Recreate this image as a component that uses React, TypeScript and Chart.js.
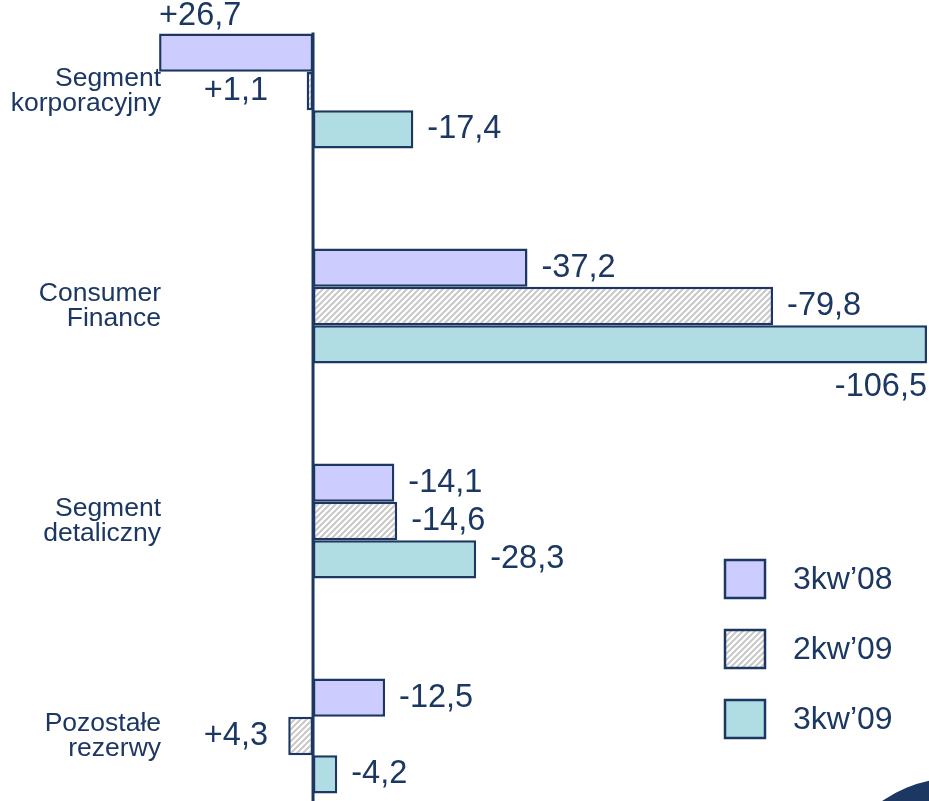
import React, { useEffect, useRef } from "react";
import { Chart, registerables } from "chart.js";

Chart.register(...registerables);

const CATEGORIES: string[][] = [
  ["Segment", "korporacyjny"],
  ["Consumer", "Finance"],
  ["Segment", "detaliczny"],
  ["Pozostałe", "rezerwy"],
];
const SERIES_NAMES = ["3kw’08", "2kw’09", "3kw’09"];
const Q3_08 = [26.7, -37.2, -14.1, -12.5];
const Q2_09 = [1.1, -79.8, -14.6, 4.3];
const Q3_09 = [-17.4, -106.5, -28.3, -4.2];

const NAVY = "#1c3862";
const TEXT = "#1c3862";
const PURPLE = "#ccccff";
const TEAL = "#b0dde3";
const FONT = '"Liberation Sans", Arial, sans-serif';

function makeHatch(): CanvasPattern | string {
  const c = document.createElement("canvas");
  c.width = 6;
  c.height = 6;
  const g = c.getContext("2d");
  if (!g) return "#dddddd";
  g.fillStyle = "#ffffff";
  g.fillRect(0, 0, 6, 6);
  g.strokeStyle = "#c8c8c8";
  g.lineWidth = 2;
  g.beginPath();
  g.moveTo(-1, 7);
  g.lineTo(7, -1);
  g.moveTo(-4, 4);
  g.lineTo(4, -4);
  g.moveTo(2, 10);
  g.lineTo(10, 2);
  g.stroke();
  const p = g.createPattern(c, "repeat");
  return p || "#dddddd";
}

function fmt(v: number): string {
  return (v > 0 ? "+" : "") + v.toFixed(1).replace(".", ",");
}

export default function App() {
  const ref = useRef<HTMLCanvasElement | null>(null);

  useEffect(() => {
    document.body.style.margin = "0";
    const canvas = ref.current;
    if (!canvas) return;
    const hatch = makeHatch();
    const fills = [PURPLE, hatch, TEAL];

    const overlay = {
      id: "overlay",
      afterDatasetsDraw(chart: any) {
        const ctx = chart.ctx as CanvasRenderingContext2D;
        const xs = chart.scales.x;
        const ys = chart.scales.y;
        const x0 = xs.getPixelForValue(0);
        const area = chart.chartArea;

        // axis line
        const firstMeta = chart.getDatasetMeta(0);
        const topBar = firstMeta.data[0];
        const topY = topBar.y - topBar.height / 2 - 1;
        ctx.save();
        ctx.strokeStyle = NAVY;
        ctx.lineWidth = 3;
        ctx.beginPath();
        ctx.moveTo(x0, topY);
        ctx.lineTo(x0, chart.height);
        ctx.stroke();

        // category labels
        ctx.fillStyle = TEXT;
        ctx.font = `26.5px ${FONT}`;
        ctx.textAlign = "right";
        ctx.textBaseline = "middle";
        CATEGORIES.forEach((lines, i) => {
          const cy = ys.getPixelForValue(i);
          const lh = 25;
          lines.forEach((ln, j) => {
            ctx.fillText(ln, x0 - 152, cy + (j - (lines.length - 1) / 2) * lh);
          });
        });

        // value labels
        ctx.font = `32.5px ${FONT}`;
        chart.data.datasets.forEach((ds: any, di: number) => {
          const meta = chart.getDatasetMeta(di);
          meta.data.forEach((bar: any, i: number) => {
            const v = ds.data[i] as number;
            const txt = fmt(v);
            const w = ctx.measureText(txt).width;
            const top = bar.y - bar.height / 2;
            const bottom = bar.y + bar.height / 2;
            if (v < 0) {
              const end = bar.x;
              if (end + 14 + w > area.right) {
                ctx.textAlign = "right";
                ctx.textBaseline = "middle";
                ctx.fillText(txt, end, bottom + 24);
              } else {
                ctx.textAlign = "left";
                ctx.textBaseline = "middle";
                ctx.fillText(txt, end + 14, bar.y);
              }
            } else {
              const left = bar.x;
              if (x0 - left > 100) {
                ctx.textAlign = "left";
                ctx.textBaseline = "alphabetic";
                ctx.fillText(txt, left, top - 8);
              } else {
                ctx.textAlign = "right";
                ctx.textBaseline = "middle";
                ctx.fillText(txt, x0 - 45, bar.y);
              }
            }
          });
        });
        ctx.restore();
      },
      afterDraw(chart: any) {
        const ctx = chart.ctx as CanvasRenderingContext2D;
        ctx.save();
        // legend
        const lx = 725;
        const ly = 560;
        SERIES_NAMES.forEach((name, i) => {
          const y = ly + i * 70;
          ctx.fillStyle = fills[i] as any;
          ctx.fillRect(lx, y, 40, 38);
          ctx.strokeStyle = NAVY;
          ctx.lineWidth = 2.5;
          ctx.strokeRect(lx, y, 40, 38);
          ctx.fillStyle = TEXT;
          ctx.font = `32px ${FONT}`;
          ctx.textAlign = "left";
          ctx.textBaseline = "middle";
          ctx.fillText(name, lx + 68, y + 20);
        });
        // decorative corner circle
        ctx.fillStyle = NAVY;
        ctx.beginPath();
        ctx.arc(955, 905, 127, 0, Math.PI * 2);
        ctx.fill();
        ctx.restore();
      },
    };

    const series = [Q3_08, Q2_09, Q3_09];
    const chart = new Chart(canvas, {
      type: "bar",
      data: {
        labels: CATEGORIES.map((c) => c.join(" ")),
        datasets: series.map((d, i) => ({
          label: SERIES_NAMES[i],
          data: d,
          backgroundColor: fills[i] as any,
          borderColor: NAVY,
          borderWidth: 2.5,
          borderSkipped: false,
          categoryPercentage: 0.535,
          barPercentage: 1.0,
          clip: false as any,
        })),
      },
      options: {
        indexAxis: "y",
        responsive: false,
        animation: false,
        devicePixelRatio: 1,
        layout: { padding: { top: 91, bottom: 65, left: 0, right: 0 } },
        scales: {
          x: { type: "linear", reverse: true, min: -106.85, max: 54.3, display: false },
          y: { type: "category", offset: false, display: false },
        },
        plugins: { legend: { display: false }, tooltip: { enabled: false } },
      },
      plugins: [overlay],
    });
    return () => chart.destroy();
  }, []);

  return (
    <div style={{ position: "absolute", left: 0, top: 0, width: 929, height: 801, background: "#fff" }}>
      <canvas ref={ref} width={929} height={801} />
    </div>
  );
}
